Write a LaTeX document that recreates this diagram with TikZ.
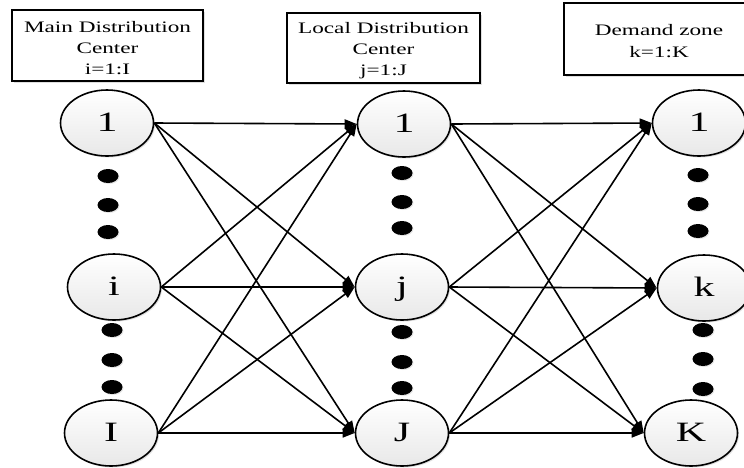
\documentclass[tikz,border=0pt]{standalone}
\usepackage{fontspec}
\setmainfont{Liberation Serif}
\usetikzlibrary{arrows.meta,shapes.geometric,shadows}
\begin{document}
\begin{tikzpicture}[x=1pt,y=-1pt,
  circ/.style={ellipse, draw=black, line width=1.6pt, minimum width=93pt, minimum height=66pt,
    inner sep=0pt, top color=white, bottom color=black!9,
    drop shadow={shadow xshift=1.5pt, shadow yshift=-1.5pt, opacity=0.25},
    text height=19pt, text depth=3pt, font=\fontsize{28}{30}\selectfont},
  dotn/.style={ellipse, fill=black, minimum width=21pt, minimum height=14pt, inner sep=0pt,
    drop shadow={shadow xshift=1pt, shadow yshift=-1pt, opacity=0.2}},
  box/.style={rectangle, draw=black, line width=1.6pt, fill=white, inner sep=0pt,
    drop shadow={shadow xshift=1.5pt, shadow yshift=-1.5pt, opacity=0.25}},
  lbl/.style={anchor=base, inner sep=0pt, font=\fontsize{16}{18}\selectfont},
  arr/.style={line width=1.6pt, -{Triangle[length=12pt,width=9pt]}}
]
\useasboundingbox (0,0) rectangle (744,467);
% header boxes
\node[box, minimum width=191pt, minimum height=71pt] (box1) at (107.5,45.5) {};
\node[box, minimum width=193pt, minimum height=70pt] (box2) at (383.5,48) {};
\node[box, minimum width=190pt, minimum height=72pt] (box3) at (659,39) {};
\node[lbl] (t11) at (107.5,32) {\scalebox{1.45}[1]{Main Distribution}};
\node[lbl] (t12) at (107.5,53) {\scalebox{1.45}[1]{Center}};
\node[lbl] (t13) at (107.5,74) {\scalebox{1.45}[1]{i=1:I}};
\node[lbl] (t21) at (383.5,33) {\scalebox{1.45}[1]{Local Distribution}};
\node[lbl] (t22) at (383.5,54) {\scalebox{1.45}[1]{Center}};
\node[lbl] (t23) at (383.5,75) {\scalebox{1.45}[1]{j=1:J}};
\node[lbl] (t31) at (659,35) {\scalebox{1.45}[1]{Demand zone}};
\node[lbl] (t32) at (659,57) {\scalebox{1.45}[1]{k=1:K}};
% main nodes
\node[circ] (a1) at (107,123) {\scalebox{1.5}[1]{1}};
\node[circ] (ai) at (114,287) {\scalebox{1.5}[1]{i}};
\node[circ] (aI) at (111,433) {\scalebox{1.5}[1]{I}};
\node[circ] (b1) at (404,124) {\scalebox{1.5}[1]{1}};
\node[circ] (bj) at (402,287) {\scalebox{1.5}[1]{j}};
\node[circ] (bJ) at (402,433) {\scalebox{1.5}[1]{J}};
\node[circ] (c1) at (699,123) {\scalebox{1.5}[1]{1}};
\node[circ] (ck) at (704,288) {\scalebox{1.5}[1]{k}};
\node[circ] (cK) at (691,433) {\scalebox{1.5}[1]{K}};
% dots
\node[dotn] (da1) at (108,176) {};
\node[dotn] (da2) at (108,205) {};
\node[dotn] (da3) at (108,232) {};
\node[dotn] (da4) at (112,330) {};
\node[dotn] (da5) at (112,360) {};
\node[dotn] (da6) at (112,387) {};
\node[dotn] (db1) at (402,173) {};
\node[dotn] (db2) at (402,202) {};
\node[dotn] (db3) at (402,228) {};
\node[dotn] (db4) at (402,332) {};
\node[dotn] (db5) at (402,362) {};
\node[dotn] (db6) at (402,388) {};
\node[dotn] (dc1) at (698,175) {};
\node[dotn] (dc2) at (698,204) {};
\node[dotn] (dc3) at (698,231) {};
\node[dotn] (dc4) at (703,330) {};
\node[dotn] (dc5) at (703,359) {};
\node[dotn] (dc6) at (703,389) {};
% connectors
\foreach \s in {a1,ai,aI}
  \foreach \t in {b1,bj,bJ}
    \draw[arr] (\s.east) -- (\t.west);
\foreach \s in {b1,bj,bJ}
  \foreach \t in {c1,ck,cK}
    \draw[arr] (\s.east) -- (\t.west);
\end{tikzpicture}
\end{document}
